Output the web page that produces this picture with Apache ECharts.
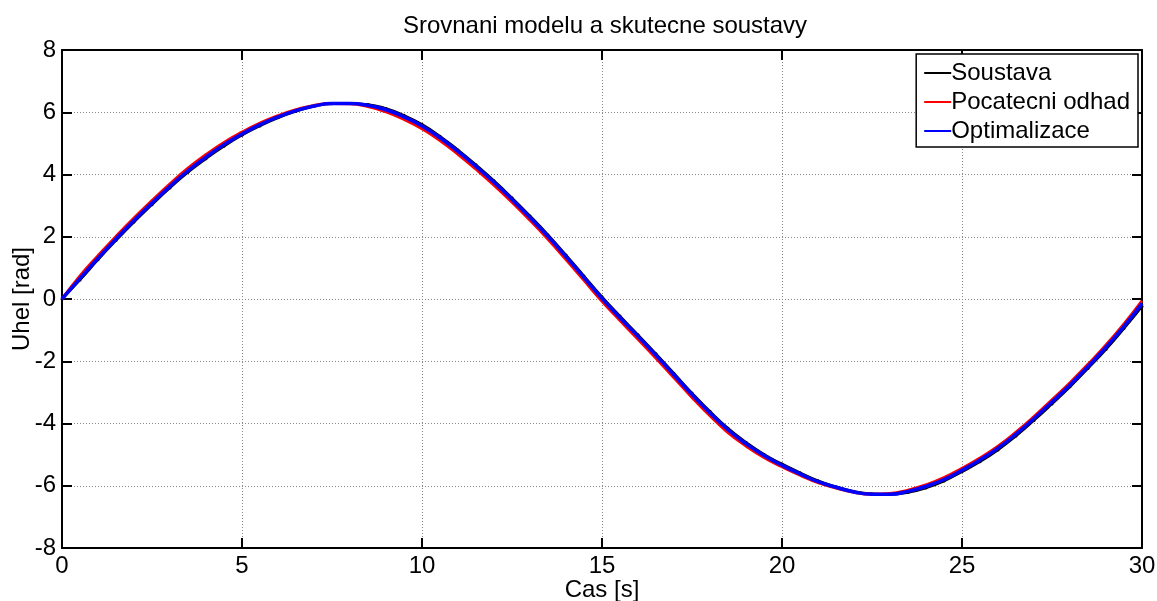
<!DOCTYPE html>
<html>
<head>
<meta charset="utf-8">
<script src="https://cdn.jsdelivr.net/npm/echarts@6/dist/echarts.min.js"></script>
<style>
    html, body { margin: 0; padding: 0; background: #fff; }
    #chart { width: 1157px; height: 601px; }
</style>
</head>
<body>
<div id="chart"></div>
<script>
const times = [
    0, 0.5, 1, 1.5, 2, 2.5, 3, 3.5, 4, 4.5, 5, 5.5, 6, 6.5, 7, 7.5, 8, 8.5, 9, 9.5,
    10, 10.5, 11, 11.5, 12, 12.5, 13, 13.5, 14, 14.5, 15, 15.5, 16, 16.5, 17, 17.5, 18, 18.5, 19, 19.5,
    20, 20.5, 21, 21.5, 22, 22.5, 23, 23.5, 24, 24.5, 25, 25.5, 26, 26.5, 27, 27.5, 28, 28.5, 29, 29.5, 30
]
const soustava = [
    0, 0.61, 1.26, 1.88, 2.47, 3.03, 3.57, 4.07, 4.51, 4.91, 5.26, 5.56, 5.82, 6.03, 6.19, 6.27, 6.28, 6.25, 6.12, 5.90,
    5.61, 5.23, 4.79, 4.31, 3.80, 3.25, 2.67, 2.06, 1.41, 0.74, 0.07, -0.55, -1.15, -1.76, -2.39, -3.02, -3.61, -4.15, -4.60, -4.99,
    -5.30, -5.58, -5.84, -6.03, -6.18, -6.26, -6.28, -6.22, -6.07, -5.85, -5.55, -5.23, -4.85, -4.40, -3.90, -3.37, -2.82, -2.23, -1.62, -0.95, -0.24
]
const pocatecniOdhad = [
    0, 0.74, 1.39, 2.01, 2.60, 3.16, 3.70, 4.20, 4.64, 5.03, 5.36, 5.65, 5.89, 6.08, 6.22, 6.28, 6.27, 6.18, 6.01, 5.77,
    5.47, 5.09, 4.65, 4.17, 3.66, 3.11, 2.53, 1.92, 1.27, 0.60, -0.07, -0.69, -1.29, -1.90, -2.53, -3.16, -3.75, -4.29, -4.72, -5.09,
    -5.39, -5.66, -5.90, -6.07, -6.21, -6.27, -6.25, -6.14, -5.97, -5.74, -5.44, -5.11, -4.73, -4.28, -3.78, -3.24, -2.69, -2.10, -1.48, -0.80, -0.06
]
const optimalizace = [
    0, 0.66, 1.31, 1.93, 2.52, 3.08, 3.62, 4.12, 4.56, 4.96, 5.30, 5.60, 5.85, 6.05, 6.20, 6.28, 6.28, 6.22, 6.08, 5.85,
    5.56, 5.18, 4.74, 4.26, 3.75, 3.20, 2.62, 2.01, 1.36, 0.69, 0.02, -0.60, -1.20, -1.81, -2.44, -3.07, -3.66, -4.20, -4.65, -5.03,
    -5.34, -5.62, -5.87, -6.05, -6.20, -6.27, -6.27, -6.18, -6.02, -5.80, -5.50, -5.17, -4.79, -4.34, -3.84, -3.31, -2.76, -2.17, -1.55, -0.88, -0.15
]

const font = 'Liberation Sans, Arial, Helvetica, sans-serif'
const pairs = (vals) => times.map((t, i) => [t, vals[i]])

const chart = echarts.init(document.getElementById('chart'))

const boxAxis = {
    axisLine: { show: true, onZero: false, lineStyle: { color: '#000', width: 2 } },
    axisTick: { show: true, inside: true, length: 10, lineStyle: { color: '#000', width: 2 } },
    axisLabel: { show: false },
    splitLine: { show: false },
}

chart.setOption({
    animation: false,
    backgroundColor: '#fff',
    title: {
        text: 'Srovnani modelu a skutecne soustavy',
        left: 600,
        textAlign: 'center',
        top: 9,
        textStyle: { fontFamily: font, fontSize: 24, fontWeight: 'normal', color: '#000' },
    },
    legend: {
        orient: 'vertical',
        right: 19,
        top: 54,
        data: ['Soustava', 'Pocatecni odhad', 'Optimalizace'],
        icon: 'rect',
        itemWidth: 27,
        itemHeight: 2,
        itemGap: 5,
        padding: [7, 8, 4, 8],
        borderColor: '#000',
        borderWidth: 1.5,
        backgroundColor: '#fff',
        textStyle: { fontFamily: font, fontSize: 24, color: '#000', padding: [0, 0, 0, -5] },
    },
    grid: { left: 62, right: 15, top: 50, bottom: 53, outerBoundsMode: 'none' },
    xAxis: [
        {
            type: 'value',
            min: 0,
            max: 30,
            interval: 5,
            name: 'Cas [s]',
            nameLocation: 'middle',
            nameGap: 30,
            nameMoveOverlap: false,
            nameTextStyle: { fontFamily: font, fontSize: 24, color: '#000' },
            axisLine: { onZero: false, lineStyle: { color: '#000', width: 2 } },
            axisTick: { inside: true, length: 10, lineStyle: { color: '#000', width: 2 } },
            axisLabel: { fontFamily: font, fontSize: 24, color: '#000', margin: 6 },
            splitLine: { show: true, lineStyle: { color: '#888', width: 1, type: [1, 2] } },
        },
        Object.assign({ type: 'value', position: 'top', min: 0, max: 30, interval: 5 }, boxAxis),
    ],
    yAxis: [
        {
            type: 'value',
            min: -8,
            max: 8,
            interval: 2,
            name: 'Uhel [rad]',
            nameLocation: 'middle',
            nameGap: 28,
            nameMoveOverlap: false,
            nameTextStyle: { fontFamily: font, fontSize: 24, color: '#000' },
            axisLine: { onZero: false, lineStyle: { color: '#000', width: 2 } },
            axisTick: { inside: true, length: 10, lineStyle: { color: '#000', width: 2 } },
            axisLabel: { fontFamily: font, fontSize: 24, color: '#000', margin: 6 },
            splitLine: { show: true, lineStyle: { color: '#888', width: 1, type: [1, 2] } },
        },
        Object.assign({ type: 'value', position: 'right', min: -8, max: 8, interval: 2 }, boxAxis),
    ],
    series: [
        {
            name: 'Soustava',
            type: 'line',
            data: pairs(soustava),
            smooth: true,
            symbol: 'circle',
            symbolSize: 3,
            showSymbol: true,
            itemStyle: { color: '#000' },
            lineStyle: { color: '#000', width: 2.5 },
            z: 2,
        },
        {
            name: 'Pocatecni odhad',
            type: 'line',
            data: pairs(pocatecniOdhad),
            smooth: true,
            showSymbol: false,
            itemStyle: { color: '#ff0000' },
            lineStyle: { color: '#ff0000', width: 3 },
            z: 3,
        },
        {
            name: 'Optimalizace',
            type: 'line',
            data: pairs(optimalizace),
            smooth: true,
            showSymbol: false,
            itemStyle: { color: '#0000ff' },
            lineStyle: { color: '#0000ff', width: 3.5 },
            z: 4,
        },
    ],
})
</script>
</body>
</html>
